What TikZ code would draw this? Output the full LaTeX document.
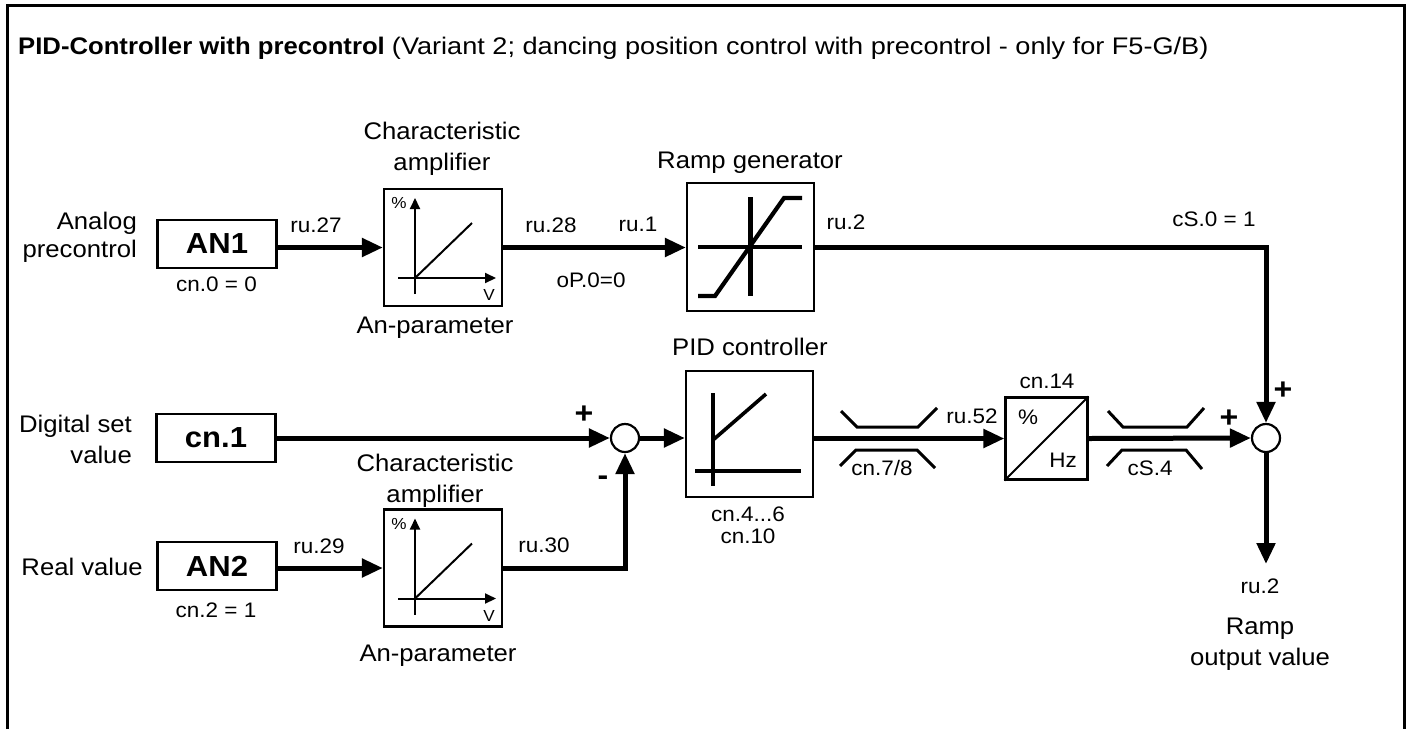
\documentclass[tikz,border=0pt]{standalone}
\usepackage{fontspec}
\setmainfont{Liberation Sans}[FakeStretch=1.07]
\newfontfamily\titlereg{Liberation Sans}[FakeStretch=1.13]
\usetikzlibrary{arrows.meta}
\tikzset{
  lbl/.style={font=\fontsize{24}{28}\selectfont, inner sep=0, anchor=base},
  sml/.style={font=\fontsize{21}{25}\selectfont, inner sep=0, anchor=base},
  tiny/.style={font=\fontsize{16}{16}\selectfont, inner sep=0},
  sign/.style={font=\bfseries\fontsize{30}{30}\selectfont, inner sep=0, anchor=base},
  srcbox/.style={draw, line width=2.2, minimum width=119, minimum height=48, inner sep=0, font=\bfseries\fontsize{29}{29}\selectfont},
  ampbox/.style={draw, line width=2.2, minimum width=118, minimum height=117, inner sep=0},
  bigbox/.style={draw, line width=2.2, minimum width=127, minimum height=127, inner sep=0},
  convbox/.style={draw, line width=2.2, minimum width=82, minimum height=82, inner sep=0},
  sumj/.style={circle, draw, line width=2.2, minimum size=28, inner sep=0},
  conn/.style={line width=5, -{Triangle[length=21pt,width=18pt]}},
  thin/.style={line width=2},
  sym/.style={line width=4.2},
  lim/.style={line width=3},
  smallarrow/.style={line width=2, -{Triangle[length=11pt,width=10pt]}},
  ampicon/.pic={
    \draw[smallarrow] (-28,46.5) -- (-28,-49.5);
    \draw[smallarrow] (-45,30.5) -- (53,30.5);
    \draw[thin] (-28,30.5) -- (29,-24.5);
    \node[tiny] (-pct) at (-44,-44.5) {\%};
    \node[tiny] (-v) at (46,47.5) {V};
  }
}
\begin{document}
\begin{tikzpicture}[x=1pt,y=-1pt]
\useasboundingbox (0,0) rectangle (1410,729);
% frame
\draw[line width=3] (7,729) -- (7,5.5) -- (1404,5.5) -- (1404,729);
\node[lbl, anchor=base west] (title) at (18,54) {\textbf{PID-Controller with precontrol} {\titlereg (Variant 2; dancing position control with precontrol - only for F5-G/B)}};

% blocks
\node[srcbox] (an1) at (217,244) {AN1};
\node[srcbox] (cn1) at (216,438) {cn.1};
\node[srcbox] (an2) at (217,566) {AN2};
\node[ampbox] (amp1) at (443,247.5) {};
\node[ampbox] (amp2) at (443,568) {};
\node[bigbox, minimum height=128] (ramp) at (750.5,247) {};
\node[bigbox, minimum height=126] (pid) at (749.5,434) {};
\node[convbox] (conv) at (1046.5,438.5) {};
\node[sumj] (j1) at (625,438) {};
\node[sumj] (j2) at (1266,438) {};
\coordinate (out) at (1266,564);

% icons
\pic (ic1) at (amp1.center) {ampicon};
\pic (ic2) at (amp2.center) {ampicon};
\begin{scope}[shift={(ramp.center)}]
  \draw[sym] (-52.5,0) -- (51.5,0);
  \draw[sym] (0,-50) -- (0,49);
  \draw[sym] (-52.5,49) -- (-35.5,49) -- (33.5,-49) -- (51.5,-49);
\end{scope}
\begin{scope}[shift={(pid.center)}]
  \draw[sym] (-36.5,-41) -- (-36.5,52);
  \draw[sym] (-54.5,37) -- (51.5,37);
  \draw[line width=3.6] (-36.5,6) -- (16.5,-40);
\end{scope}
\draw[thin] (conv.south west) -- (conv.north east);
\node[font=\fontsize{21}{21}\selectfont, inner sep=0, anchor=base] (pct) at (1028,424) {\%};
\node[sml] (hz) at (1063,467) {Hz};

% limiters
\draw[lim] (841,411) -- (857,427) -- (918,427) -- (937,408);
\draw[lim] (840,466) -- (856,450) -- (917,450) -- (935,468);
\draw[lim] (1108,411) -- (1123,427) -- (1187,427) -- (1204,408);
\draw[lim] (1107,466) -- (1122,450) -- (1186,450) -- (1202,469);

% connectors
\draw[conn] (an1.east |- amp1.west) -- (amp1.west);
\draw[conn] (amp1.east) -- (amp1.east -| ramp.west);
\draw[conn] (ramp.east) -| (j2.north);
\draw[conn] (cn1.east) -- (j1.west);
\draw[conn] (j1.east) -- (j1.east -| pid.west);
\draw[conn] (an2.east |- amp2.west) -- (amp2.west);
\draw[conn] (amp2.east) -| (j1.south);
\draw[conn] (pid.east |- conv.west) -- (conv.west);
\draw[conn] (conv.east) -- (j2.west);
\draw[conn] (j2.south) -- (out);

% left labels
\node[lbl, anchor=base east] (l1a) at (137,229) {Analog};
\node[lbl, anchor=base east] (l1b) at (137,257) {precontrol};
\node[lbl, anchor=base east] (l2a) at (132,432) {Digital set};
\node[lbl, anchor=base east] (l2b) at (132,463) {value};
\node[lbl, anchor=base east] (l3) at (143,575) {Real value};

% block titles
\node[lbl] (c1a) at (442,139) {Characteristic};
\node[lbl] (c1b) at (442,170) {amplifier};
\node[lbl] (p1) at (435,333) {An-parameter};
\node[lbl] (c2a) at (435,471) {Characteristic};
\node[lbl] (c2b) at (435,502) {amplifier};
\node[lbl] (p2) at (438,661) {An-parameter};
\node[lbl] (rg) at (750,168) {Ramp generator};
\node[lbl] (pc) at (750,355) {PID controller};
\node[lbl] (ro1) at (1260,634) {Ramp};
\node[lbl] (ro2) at (1260,665) {output value};

% small labels
\node[sml] (s1) at (216.5,291) {cn.0 = 0};
\node[sml] (s2) at (216,617) {cn.2 = 1};
\node[sml] (s3) at (316,232) {ru.27};
\node[sml] (s4) at (551,232) {ru.28};
\node[sml] (s5) at (638,231) {ru.1};
\node[sml] (s6) at (591,287) {oP.0=0};
\node[sml] (s7) at (846,229) {ru.2};
\node[sml] (s8) at (1214,226) {cS.0 = 1};
\node[sml] (s9) at (319,553) {ru.29};
\node[sml] (s10) at (544,552) {ru.30};
\node[sml] (s11) at (748,521) {cn.4...6};
\node[sml] (s12) at (748,543) {cn.10};
\node[sml] (s13) at (882,475) {cn.7/8};
\node[sml] (s14) at (972,423) {ru.52};
\node[sml] (s15) at (1047,388) {cn.14};
\node[sml] (s16) at (1150,475) {cS.4};
\node[sml] (s17) at (1260,593) {ru.2};

% signs
\node[sign] (g1) at (584,423) {+};
\node[sign] (g2) at (603,485.5) {-};
\node[sign] (g3) at (1283,399) {+};
\node[sign] (g4) at (1229,427) {+};
\end{tikzpicture}
\end{document}
